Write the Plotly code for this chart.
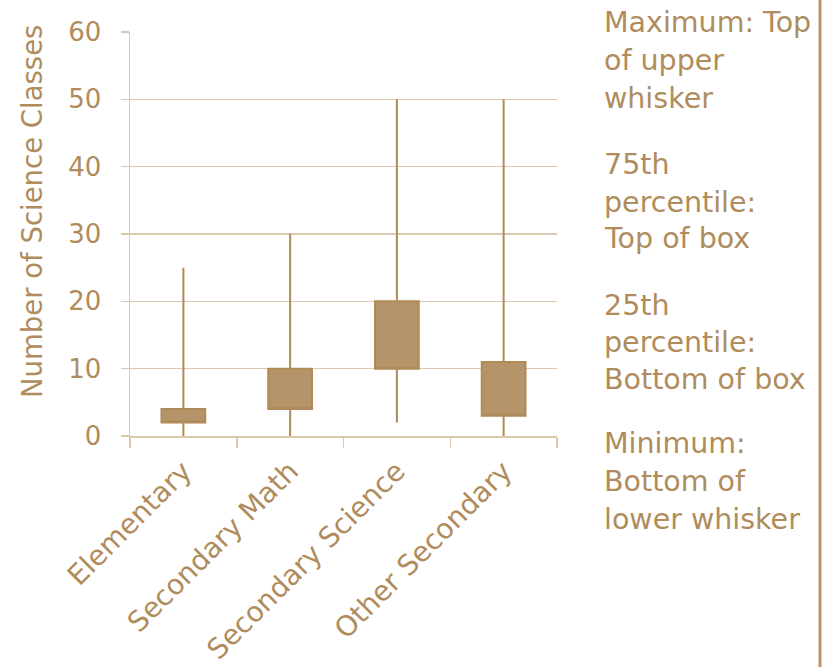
import plotly.graph_objects as go

categories = ["Elementary", "Secondary Math", "Secondary Science", "Other Secondary"]
minimum = [0, 0, 2, 0]
q1 = [2, 4, 10, 3]
q3 = [4, 10, 20, 11]
maximum = [25, 30, 50, 50]
y_ticks = [0, 10, 20, 30, 40, 50, 60]
y_title = "Number of Science Classes"

legend_blocks = [
    ["Maximum: Top", "of upper", "whisker"],
    ["75th", "percentile:", "Top of box"],
    ["25th", "percentile:", "Bottom of box"],
    ["Minimum:", "Bottom of", "lower whisker"],
]

TEXT = "#b08c5c"
GRID = "#dcc8ae"
BOX_FILL = "#b5946a"
BOX_LINE = "#b08a58"
FONT = "DejaVu Sans"

W, H = 828, 667
SX0, SX1, SY0, SY1 = 130, 557, 32, 436  # plot area on screen
L = SX0
T = SY0
plot_w = SX1 - SX0
plot_h = SY1 - SY0
R = W - L - plot_w
B = H - T - plot_h


def px_to_paper_x(sx):
    return (sx - SX0) / plot_w


def py_to_paper_y(sy):
    return (SY1 - sy) / plot_h


fig = go.Figure()
fig.add_trace(go.Box(
    x=categories,
    q1=q1,
    median=q1,
    q3=q3,
    lowerfence=minimum,
    upperfence=maximum,
    boxpoints=False,
    fillcolor=BOX_FILL,
    line=dict(color=BOX_LINE, width=2),
    whiskerwidth=0,
    width=0.41,
    showlegend=False,
    hoverinfo="skip",
))

baselines = [[33, 70.5, 108], [175, 212, 248], [315, 352, 389], [453, 491, 529]]
fs = 28.5
for block, bls in zip(legend_blocks, baselines):
    for line, bl in zip(block, bls):
        cy = bl - 10
        fig.add_annotation(
            text=line, xref="paper", yref="paper",
            x=px_to_paper_x(602), y=py_to_paper_y(cy),
            xanchor="left", yanchor="middle", showarrow=False,
            font=dict(family=FONT, size=fs, color=TEXT),
        )

# y-axis title (placed as rotated text)
fig.add_annotation(
    text=y_title, xref="paper", yref="paper",
    x=px_to_paper_x(32), y=py_to_paper_y(212),
    xanchor="center", yanchor="middle", textangle=-90, showarrow=False,
    font=dict(family=FONT, size=27.5, color=TEXT),
)

fig.add_shape(type="line", xref="paper", yref="paper",
              x0=px_to_paper_x(820), x1=px_to_paper_x(820),
              y0=-1, y1=2, line=dict(color="#b8946a", width=3))

fig.update_layout(
    width=W, height=H,
    margin=dict(l=L, r=R, t=T, b=B, autoexpand=False),
    paper_bgcolor="white", plot_bgcolor="white",
    font=dict(family=FONT, color=TEXT),
    xaxis=dict(
        type="category", categoryorder="array", categoryarray=categories,
        tickson="boundaries", ticks="outside", ticklen=10, tickcolor=GRID, tickwidth=1.5,
        showline=True, linecolor=GRID, linewidth=1.5,
        showgrid=False, tickangle=-45,
        tickfont=dict(family=FONT, size=28, color=TEXT),
        ticklabelstandoff=6,
        automargin=False, range=[-0.5, 3.5],
    ),
    yaxis=dict(
        range=[0, 60], tickvals=y_ticks, ticktext=[str(v) for v in y_ticks],
        ticks="outside", ticklen=8, tickcolor=GRID, tickwidth=1.5,
        showgrid=True, gridcolor=GRID, gridwidth=1.5,
        showline=True, linecolor=GRID, linewidth=1.5, zeroline=False,
        tickfont=dict(family=FONT, size=26, color=TEXT),
        ticklabelstandoff=14,
        automargin=False,
    ),
)

fig.write_html(
    "out.html",
    config={"displayModeBar": False, "staticPlot": True},
    post_script="document.body.style.margin='0';document.body.style.overflow='hidden';",
)
